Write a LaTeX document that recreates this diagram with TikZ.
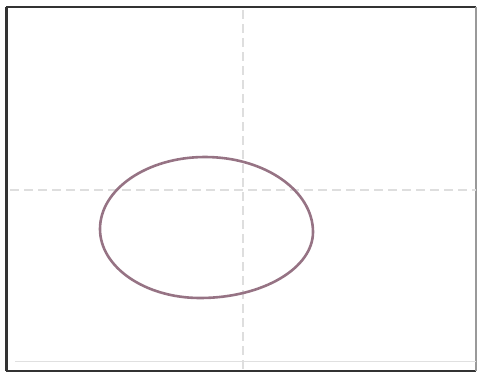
\documentclass[tikz,border=0pt]{standalone}
\usepackage{xcolor}
\usepackage{tikz}

\definecolor{eggline}{RGB}{150,115,132}
\definecolor{guidegray}{RGB}{222,222,222}

\begin{document}
\begin{tikzpicture}[
  x=1pt, y=-1pt,
  frame/.style={draw=black!80, line width=2pt},
  faint/.style={draw=black!12, line width=1pt},
  guide/.style={draw=guidegray, line width=2pt, dash pattern=on 9pt off 5pt},
  curve/.style={draw=eggline, line width=2.6pt}]
\useasboundingbox (0,0) rectangle (479,373);
% frame
\coordinate (tl) at (6,7);
\coordinate (tr) at (476,7);
\coordinate (bl) at (6,371);
\coordinate (br) at (476,371);
\draw[frame, line width=3pt] (tl) -- (bl);
\draw[frame] (tl) -- (tr);
\draw[frame] (bl) -- (br);
\draw[draw=black!40, line width=1.5pt] (tr) -- (br);
\draw[faint] (15,361) -- (476,361);
% cross hair
\coordinate (vtop) at (243,10);
\coordinate (vbot) at (243,370);
\coordinate (hleft) at (10,190);
\coordinate (hright) at (476,190);
\draw[guide] (vtop) -- (vbot);
\draw[guide] (hleft) -- (hright);
% egg
\draw[curve] (205,157) .. controls (264.6,157) and (313,190.6) .. (313,232)
  .. controls (313,268.4) and (262.4,298) .. (200,298)
  .. controls (144.8,298) and (100,267) .. (100,229)
  .. controls (100,189.3) and (147,157) .. cycle;
\end{tikzpicture}
\end{document}
